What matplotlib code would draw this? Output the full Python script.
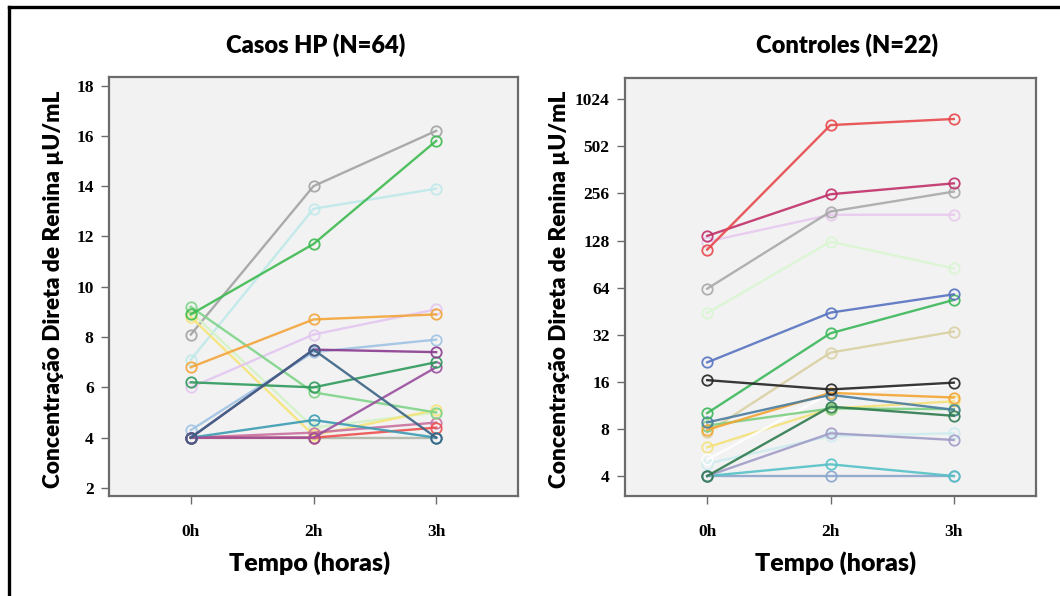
import matplotlib
matplotlib.use("Agg")
import matplotlib.pyplot as plt
from matplotlib.lines import Line2D
from matplotlib.font_manager import FontProperties
from matplotlib.ticker import FixedLocator, FixedFormatter, NullLocator

# ---- data -------------------------------------------------------------
time_labels = ["0h", "2h", "3h"]

hp_title = "Casos HP (N=64)"
hp_values = [
    [8.1, 14.0, 16.2],
    [7.1, 13.1, 13.9],
    [9.0, 4.4, 5.0],
    [8.8, 4.1, 5.1],
    [6.0, 8.1, 9.1],
    [4.3, 7.4, 7.9],
    [4.0, 4.0, 4.0],
    [4.0, 4.2, 4.6],
    [4.0, 4.0, 4.4],
    [9.2, 5.8, 5.0],
    [6.8, 8.7, 8.9],
    [4.0, 4.7, 4.0],
    [4.0, 4.0, 6.8],
    [6.2, 6.0, 7.0],
    [8.9, 11.7, 15.8],
    [4.0, 7.5, 7.4],
    [4.0, 7.5, 4.0],
]
hp_colors = [
    "#a3a3a3", "#bfe9ea", "#d2f3c6", "#f6e477", "#e3c6f0", "#9fc3e4",
    "#aeb5a8", "#c9709e", "#ee4f4f", "#7ed489", "#f3a53a", "#3c9cb2",
    "#9a4f9e", "#2f9a5c", "#3dba50", "#8a3b8e", "#3a6484",
]
hp_yticks = [2, 4, 6, 8, 10, 12, 14, 16, 18]

ctrl_title = "Controles (N=22)"
ctrl_values = [
    [44, 126, 85],
    [126, 187, 187],
    [63, 196, 263],
    [4.8, 7.2, 7.5],
    [7.6, 24.6, 33.5],
    [6.1, 10.8, 12.0],
    [5.1, 13.5, 15.5],
    [4.0, 4.0, 4.0],
    [4.0, 4.75, 4.0],
    [4.0, 7.5, 6.8],
    [8.4, 10.8, 10.7],
    [7.9, 13.6, 12.7],
    [8.8, 13.2, 10.6],
    [4.0, 11.1, 9.7],
    [10.1, 32.7, 53.4],
    [21.3, 44.3, 58],
    [16.4, 14.3, 15.8],
    [137, 253, 297],
    [112, 700, 766],
]
ctrl_colors = [
    "#d9f6d2", "#e9c9ee", "#a9a9a9", "#cdecef", "#d9d0a2", "#f5e27a",
    "#ffffff", "#8aa6cc", "#55c1c7", "#a09cc8", "#7ccf82", "#f4a532",
    "#4a7d9f", "#2f7a4f", "#3cb85a", "#5873c0", "#222222", "#c0306a",
    "#e8474a",
]
ctrl_yticks = [4, 8, 16, 32, 64, 128, 256, 512, 1024]
ctrl_yticklabels = ["4", "8", "16", "32", "64", "128", "256", "502", "1024"]

y_label = "Concentração Direta de Renina µU/mL"
x_label = "Tempo (horas)"

# ---- figure -----------------------------------------------------------
W, H = 1060, 596
fig = plt.figure(figsize=(W / 100, H / 100), dpi=100)
fig.patch.set_facecolor("white")

def frac_box(x0, y0, x1, y1):
    return [x0 / W, 1 - y1 / H, (x1 - x0) / W, (y1 - y0) / H]

ax_hp = fig.add_axes(frac_box(109, 77, 518, 496))
ax_ct = fig.add_axes(frac_box(625, 78, 1036, 496))

tick_font = dict(family="Liberation Serif", weight="bold", size=12.5)
label_font = dict(family="Lato", weight="heavy")
positions = list(range(len(time_labels)))


def style_axes(ax):
    ax.set_facecolor("#f2f2f2")
    for side in ("left", "right", "top", "bottom"):
        ax.spines[side].set_color("#6b6b6b")
        ax.spines[side].set_linewidth(1.6)
    ax.tick_params(axis="both", which="major", direction="out", length=6,
                   width=1.0, color="#6b6b6b", top=False, right=False)
    ax.tick_params(axis="y", pad=5)
    ax.tick_params(axis="x", pad=14)
    ax.set_xlim(-0.667, 2.667)
    ax.set_xticks(positions)
    ax.set_xticklabels(time_labels, fontdict=tick_font)


def draw_lines(ax, values, colors):
    for vals, col in zip(values, colors):
        ax.plot(positions, vals, color=col, lw=1.7, alpha=0.9,
                marker="o", markersize=7.5, markerfacecolor="none",
                markeredgecolor=col, markeredgewidth=1.3)


# Casos HP panel (linear scale)
style_axes(ax_hp)
draw_lines(ax_hp, hp_values, hp_colors)
ax_hp.set_ylim(1.68, 18.34)
ax_hp.set_yticks(hp_yticks)
ax_hp.set_yticklabels([str(v) for v in hp_yticks], fontdict=tick_font)

# Controles panel (log2 scale)
style_axes(ax_ct)
draw_lines(ax_ct, ctrl_values, ctrl_colors)
ax_ct.set_yscale("log", base=2)
ax_ct.set_ylim(2.98, 1400)
ax_ct.yaxis.set_major_locator(FixedLocator(ctrl_yticks))
ax_ct.yaxis.set_major_formatter(FixedFormatter(ctrl_yticklabels))
ax_ct.yaxis.set_minor_locator(NullLocator())
for lab in ax_ct.get_yticklabels():
    lab.set_fontproperties(FontProperties(**tick_font))

# Titles, axis labels
fig.text(316 / W, 1 - 45 / H, hp_title, ha="center", va="center",
         fontsize=17, color="black", **label_font)
fig.text(847 / W, 1 - 45 / H, ctrl_title, ha="center", va="center",
         fontsize=17, color="black", **label_font)
fig.text(310 / W, 1 - 563 / H, x_label, ha="center", va="center",
         fontsize=18, color="black", **label_font)
fig.text(836 / W, 1 - 563 / H, x_label, ha="center", va="center",
         fontsize=18, color="black", **label_font)
fig.text(54 / W, 1 - 289 / H, y_label, ha="center", va="center",
         rotation=90, fontsize=16.3, color="black", **label_font)
fig.text(560 / W, 1 - 289 / H, y_label, ha="center", va="center",
         rotation=90, fontsize=16.3, color="black", **label_font)

# Outer frame (left and top edges)
fig.add_artist(Line2D([9 / W, 9 / W], [0, 1 - 7 / H], color="black",
                      lw=2.4, transform=fig.transFigure))
fig.add_artist(Line2D([9 / W, 1], [1 - 7 / H, 1 - 7 / H], color="black",
                      lw=2.4, transform=fig.transFigure))

fig.savefig("out.png", dpi=100, facecolor="white")
